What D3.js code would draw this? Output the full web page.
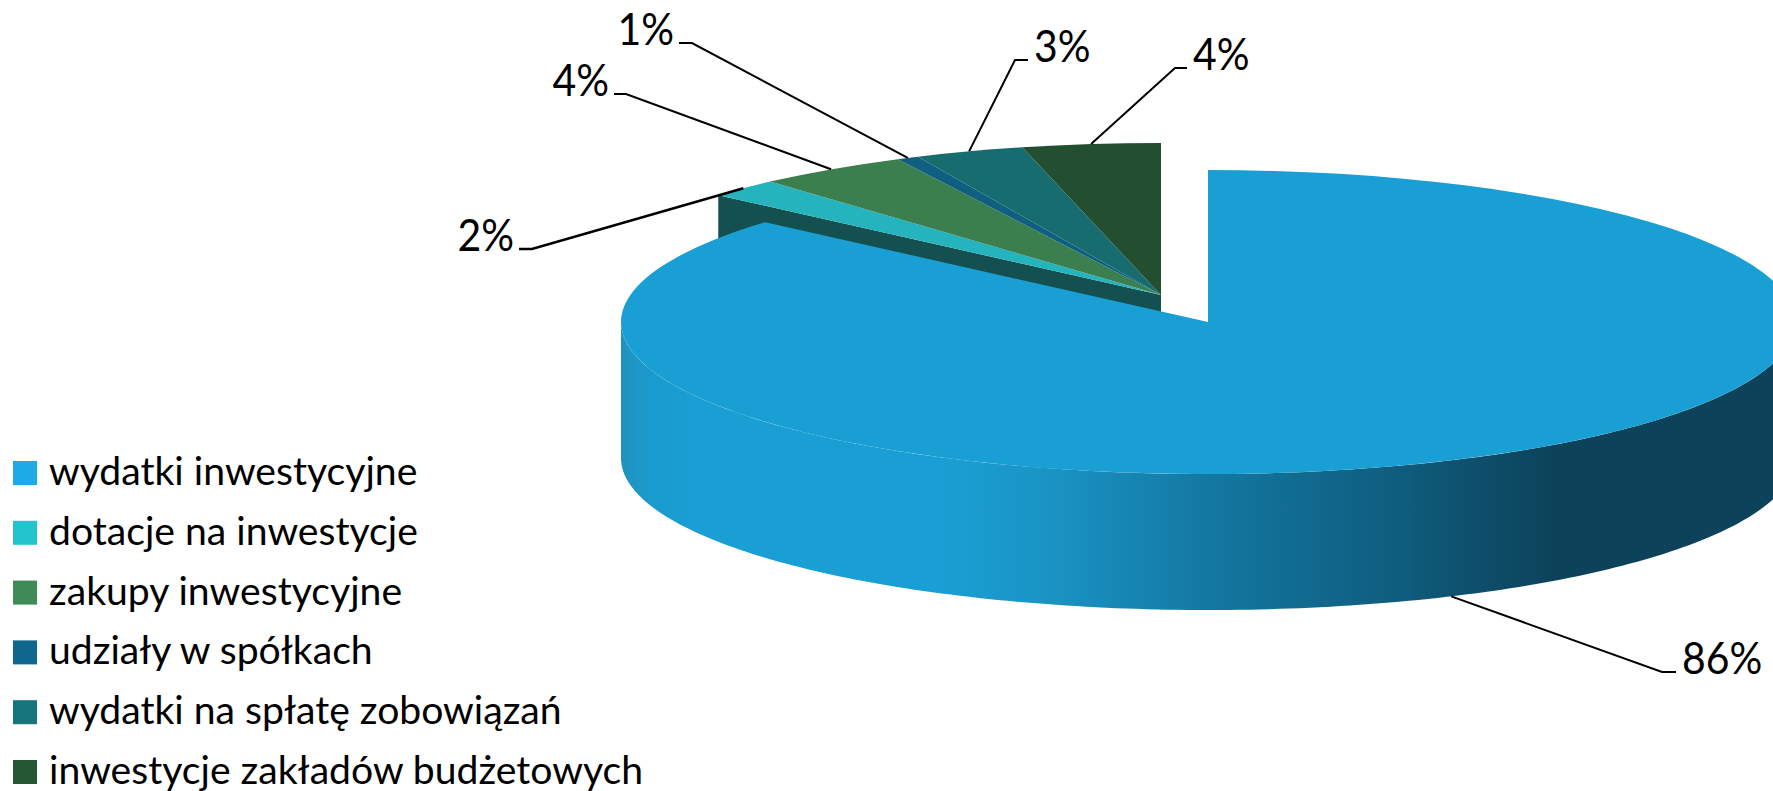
<!DOCTYPE html>
<html>
<head>
<meta charset="utf-8">
<script src="https://cdn.jsdelivr.net/npm/d3@7"></script>
<style>
  html, body { margin: 0; background: #fff; overflow: hidden; }
  text { font-family: Lato, "Open Sans", sans-serif; fill: #000; }
</style>
</head>
<body>
<svg id="chart"></svg>
<script>
const categories = ['wydatki inwestycyjne', 'dotacje na inwestycje', 'zakupy inwestycyjne',
  'udziały w spółkach', 'wydatki na spłatę zobowiązań', 'inwestycje zakładów budżetowych'];
const shares = [86.4, 2.0, 4.2, 0.6, 3.0, 3.8];
const topColors = ['#1a9fd4', '#25b4bd', '#3c7f4e', '#0f5f80', '#176c70', '#234f30'];
const legendColors = ['#1eaae6', '#24c4cc', '#3d8b56', '#0f678f', '#17767b', '#265734'];

const width = 1773, height = 791;
const rx = 587, ry = 152, depth = 136;
const bigCenter = { x: 1208, y: 322 };    // the exploded 86% slice
const restCenter = { x: 1161, y: 295 };   // all the small slices

// leader line elbow and the end of its short horizontal part, by slice
const elbows = [[1662, 672, 1676], [532, 249, 519], [626, 94, 614], [692, 43, 679], [1015, 60, 1028], [1175, 68, 1187]];

const svg = d3.select('#chart').attr('width', width).attr('height', height)
  .attr('viewBox', `0 0 ${width} ${height}`);

const pie = d3.pie().sort(null).value(d => d.value);
const slices = pie(categories.map((name, i) => ({ name, value: shares[i], index: i })));
const total = d3.sum(shares);

const arc = d3.arc().innerRadius(0).outerRadius(rx);
const centerOf = i => (i === 0 ? bigCenter : restCenter);

// point on the rim of a slice's ellipse, angle clockwise from 12 o'clock
const rim = (center, angle, drop = 0) => [
  center.x + rx * Math.sin(angle),
  center.y - ry * Math.cos(angle) + drop
];

// shading of the side wall
const defs = svg.append('defs');
const wallGradient = defs.append('linearGradient')
  .attr('id', 'wall')
  .attr('gradientUnits', 'userSpaceOnUse')
  .attr('x1', bigCenter.x - rx).attr('x2', bigCenter.x + rx)
  .attr('y1', 0).attr('y2', 0);
[[0, '#2093bf'], [0.03, '#1a9bcf'], [0.07, '#1a9fd4'], [0.27, '#1a9fd4'], [0.36, '#1a94c5'], [0.5, '#1378a2'],
  [0.66, '#0f5d7e'], [0.79, '#0c435b'], [1, '#0c435b']].forEach(([offset, color]) => {
  wallGradient.append('stop').attr('offset', offset).attr('stop-color', color);
});

const line = d3.line();

// cut face of the small slices, mostly covered by the big slice
const firstRest = slices[1];
svg.append('path')
  .attr('d', line([
    [restCenter.x, restCenter.y],
    rim(restCenter, firstRest.startAngle),
    rim(restCenter, firstRest.startAngle, depth),
    [restCenter.x, restCenter.y + depth]
  ]) + 'Z')
  .attr('fill', '#14504f');

const drawTop = d => {
  const c = centerOf(d.data.index);
  svg.append('path')
    .attr('transform', `translate(${c.x},${c.y}) scale(1,${ry / rx})`)
    .attr('d', arc(d))
    .attr('fill', topColors[d.data.index]);
};

slices.slice(1).forEach(drawTop);

// front wall of the big slice, from 3 o'clock round to 9 o'clock
const wallAngles = d3.range(Math.PI / 2, Math.PI * 1.5 + 0.001, Math.PI / 180);
svg.append('path')
  .attr('d', line(wallAngles.map(a => rim(bigCenter, a)).concat(
    wallAngles.slice().reverse().map(a => rim(bigCenter, a, depth)))) + 'Z')
  .attr('fill', 'url(#wall)');

drawTop(slices[0]);

// leader lines and labels
const percent = d3.format('.0%');
const labels = svg.append('g');
slices.forEach((d, i) => {
  const mid = (d.startAngle + d.endAngle) / 2;
  // only the big slice shows its outer wall, so its line leaves from the lower rim
  const start = rim(centerOf(i), mid, i === 0 ? depth : 0);
  const [ex, ey, tx] = elbows[i];
  labels.append('path')
    .attr('d', line([start, [ex, ey], [tx, ey]]))
    .attr('fill', 'none')
    .attr('stroke', '#000')
    .attr('stroke-width', i === 1 ? 2.5 : 2);
  const onRight = tx > ex;
  // the original font is narrower than Lato, hence the squeeze
  labels.append('text')
    .attr('transform', `translate(${onRight ? tx + 6 : tx - 5},${ey + 2}) scale(0.92,1)`)
    .attr('text-anchor', onRight ? 'start' : 'end')
    .attr('font-size', 44.5)
    .text(percent(d.value / total));
});

// legend
const legendY = d3.scalePoint().domain(categories).range([473, 772]);
const legend = svg.append('g').selectAll('g')
  .data(categories)
  .join('g')
  .attr('transform', d => `translate(13,${legendY(d)})`);

legend.append('rect')
  .attr('y', -12).attr('width', 24).attr('height', 24)
  .attr('fill', (d, i) => legendColors[i]);

legend.append('text')
  .attr('transform', 'translate(36,12) scale(1.03,1)')
  .attr('font-size', 38)
  .text(d => d);
</script>
</body>
</html>
